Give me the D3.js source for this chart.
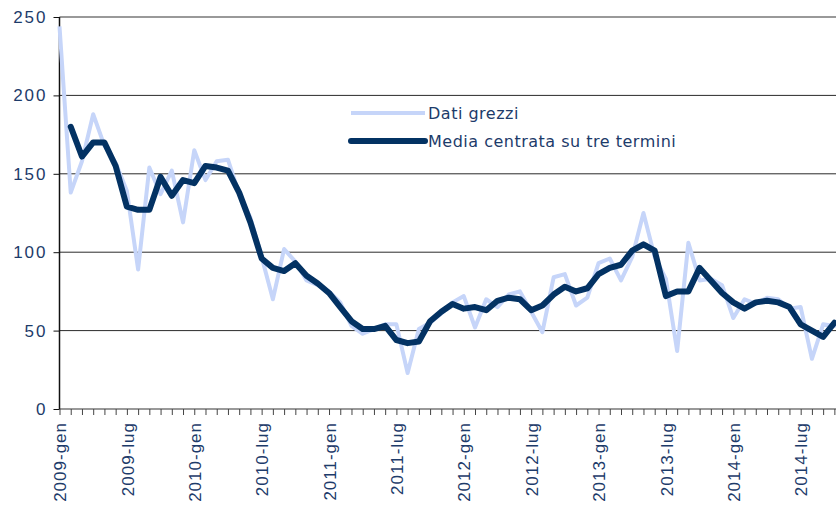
<!DOCTYPE html>
<html>
<head>
<meta charset="utf-8">
<script src="https://cdn.jsdelivr.net/npm/d3@7"></script>
<style>
  body { margin: 0; background: #fff; }
  svg { display: block; font-family: "DejaVu Sans", sans-serif; }
</style>
</head>
<body>
<div id="chart"></div>
<script>
(function() {
    const width = 836;
    const height = 505;
    const margin = { top: 17, left: 59.5, bottom: 96 };
    const step = 11.23;

    const years = [2009, 2010, 2011, 2012, 2013, 2014];
    const monthNames = ["gen", "feb", "mar", "apr", "mag", "giu", "lug", "ago", "set", "ott", "nov", "dic"];

    // dati grezzi, da 2009-gen
    const rawValues = [
        244, 138, 158, 188, 168, 157, 139, 89, 154, 137, 152, 119,
        165, 146, 158, 159, 137, 122, 97, 70, 102, 94, 82, 79,
        75, 68, 53, 48, 51, 54, 54, 23, 51, 55, 61, 68,
        72, 52, 70, 65, 73, 75, 62, 49, 84, 86, 66, 71,
        93, 96, 82, 97, 125, 97, 83, 37, 106, 82, 83, 79,
        58, 70, 67, 71, 70, 64, 65, 32, 54, 53, 59
    ];

    // media centrata su tre termini, da 2009-feb
    const avgValues = [
        180, 161, 170, 170, 155, 129, 127, 127, 148, 136, 146,
        144, 155, 154, 152, 138, 119, 96, 90, 88, 93, 85, 80,
        74, 65, 56, 51, 51, 53, 44, 42, 43, 56, 62, 67,
        64, 65, 63, 69, 71, 70, 63, 66, 73, 78, 75, 77,
        86, 90, 92, 101, 105, 101, 72, 75, 75, 90, 82, 74,
        68, 64, 68, 69, 68, 65, 54, 50, 46, 55
    ];

    const yTicks = [0, 50, 100, 150, 200, 250];
    const seriesNames = ["Dati grezzi", "Media centrata su tre termini"];

    const labels = years.flatMap(y => monthNames.map(m => `${y}-${m}`));
    const raw = rawValues.map((v, i) => ({ label: labels[i], val: v }));
    const avg = avgValues.map((v, i) => ({ label: labels[i + 1], val: v }));

    const svg = d3.select("#chart").append("svg")
        .attr("width", width).attr("height", height);

    const x = d3.scalePoint().domain(labels)
        .range([margin.left, margin.left + step * (labels.length - 1)]);
    const y = d3.scaleLinear().domain([0, 250]).range([height - margin.bottom, margin.top]);

    const textColor = "#1d3b6a";
    const rawColor = "#c6d5f9";
    const avgColor = "#033263";

    // griglia
    svg.append("g")
        .selectAll("line")
        .data(yTicks.filter(d => d > 0 && d < 250))
        .join("line")
        .attr("x1", margin.left).attr("x2", width)
        .attr("y1", d => y(d)).attr("y2", d => y(d))
        .attr("stroke", "#2a2a2a").attr("stroke-width", 1);

    // bordo superiore
    svg.append("line")
        .attr("x1", margin.left).attr("x2", width)
        .attr("y1", y(250)).attr("y2", y(250))
        .attr("stroke", "#999").attr("stroke-width", 2);

    // asse x
    const xAxis = svg.append("g")
        .attr("transform", `translate(0,${y(0)})`)
        .call(d3.axisBottom(x).tickSize(6).tickFormat(d => labels.indexOf(d) % 6 === 0 ? d : ""));
    xAxis.select(".domain").attr("stroke", "#777").attr("stroke-width", 1.5)
        .attr("d", `M${margin.left},0H${width}`);
    xAxis.selectAll(".tick line").attr("stroke", "#444");
    xAxis.selectAll(".tick text")
        .attr("fill", textColor)
        .attr("font-size", "17px")
        .attr("letter-spacing", "1px")
        .attr("text-anchor", "end")
        .attr("transform", "rotate(-90)")
        .attr("x", -13).attr("y", 0).attr("dy", "0.36em");

    // asse y
    const yAxis = svg.append("g")
        .attr("transform", `translate(${margin.left},0)`)
        .call(d3.axisLeft(y).tickValues(yTicks).tickSize(6));
    yAxis.select(".domain").attr("stroke", "#111").attr("stroke-width", 1.5)
        .attr("d", `M0,${y(250)}V${y(0)}`);
    yAxis.selectAll(".tick line").attr("stroke", "#111");
    yAxis.selectAll(".tick text")
        .attr("fill", textColor)
        .attr("font-size", "17px")
        .attr("letter-spacing", "2px")
        .attr("x", -12);

    const line = d3.line().x(d => x(d.label)).y(d => y(d.val));

    svg.append("path")
        .datum(raw)
        .attr("fill", "none").attr("stroke", rawColor).attr("stroke-width", 4)
        .attr("stroke-linejoin", "round")
        .attr("d", line);

    svg.append("path")
        .datum(avg)
        .attr("fill", "none").attr("stroke", avgColor).attr("stroke-width", 6)
        .attr("stroke-linejoin", "round").attr("stroke-linecap", "round")
        .attr("d", line);

    // legenda
    const legend = svg.append("g").attr("transform", "translate(351,113)");
    legend.append("line").attr("x1", 0).attr("x2", 74).attr("y1", 0).attr("y2", 0)
        .attr("stroke", rawColor).attr("stroke-width", 4);
    legend.append("text").attr("x", 77).attr("y", 6)
        .attr("fill", textColor).attr("font-size", "16px").attr("letter-spacing", "0.5px")
        .text(seriesNames[0]);
    legend.append("line").attr("x1", 0).attr("x2", 74).attr("y1", 28).attr("y2", 28)
        .attr("stroke", avgColor).attr("stroke-width", 6).attr("stroke-linecap", "round");
    legend.append("text").attr("x", 77).attr("y", 34)
        .attr("fill", textColor).attr("font-size", "16px").attr("letter-spacing", "0.5px")
        .text(seriesNames[1]);
})();
</script>
</body>
</html>
